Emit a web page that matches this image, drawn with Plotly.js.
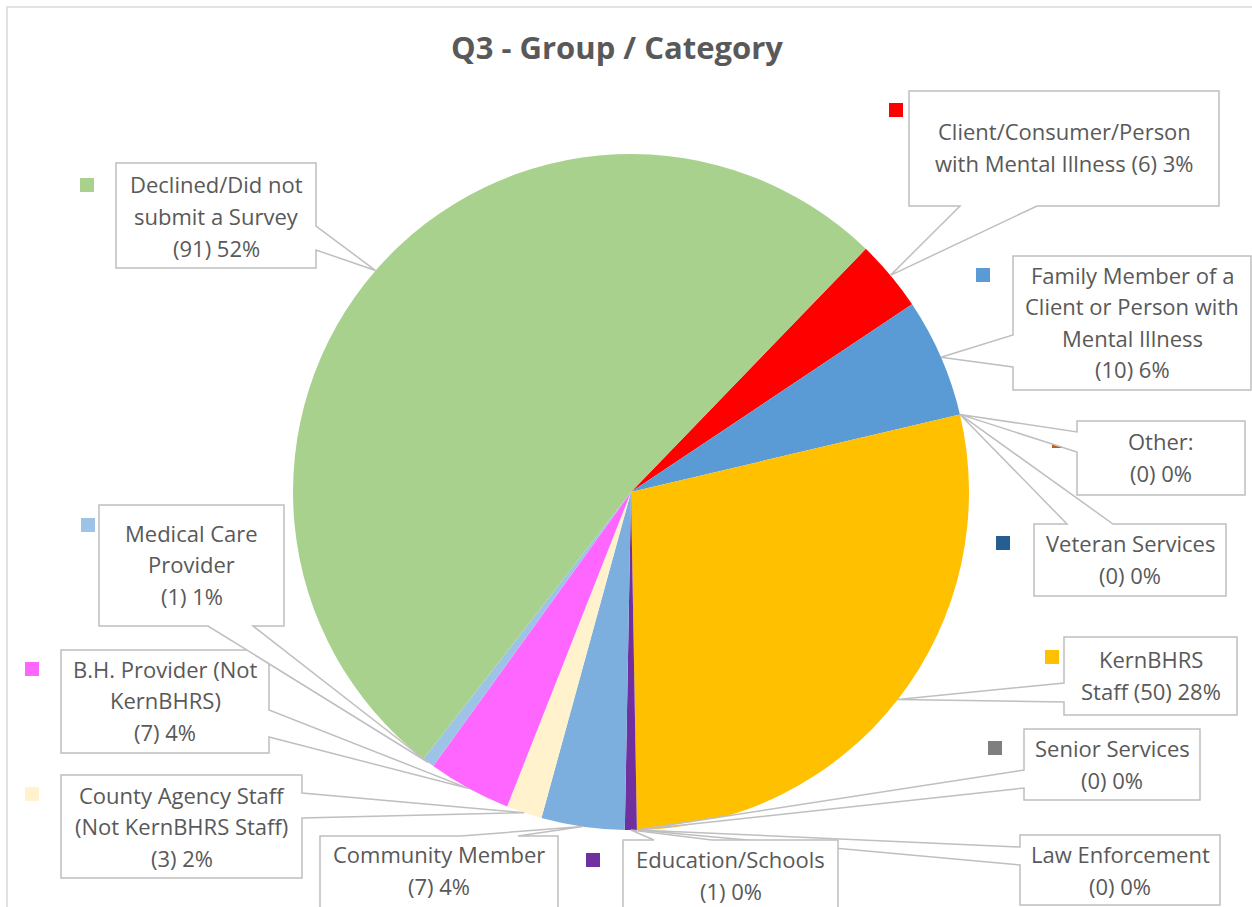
<!DOCTYPE html>
<html>
<head>
<meta charset="utf-8">
<script src="https://cdn.plot.ly/plotly-3.0.1.min.js"></script>
<style>
  html, body { margin: 0; padding: 0; background: #fff; }
  #myPlot { width: 1252px; height: 907px; }
</style>
</head>
<body>
<div id="myPlot"></div>
<script>
// Chart data (slice order as in the source workbook, clockwise)
const categories = [
  'Client/Consumer/Person with Mental Illness',
  'Family Member of a Client or Person with Mental Illness',
  'Other:',
  'Veteran Services',
  'KernBHRS Staff',
  'Senior Services',
  'Law Enforcement',
  'Education/Schools',
  'Community Member',
  'County Agency Staff (Not KernBHRS Staff)',
  'B.H. Provider (Not KernBHRS)',
  'Medical Care Provider',
  'Declined/Did not submit a Survey'
];
const values = [6, 10, 0, 0, 50, 0, 0, 1, 7, 3, 7, 1, 91];
const sliceColors = ['#FF0000', '#5B9BD5', '#C55A11', '#255E91', '#FFC000', '#7F7F7F',
  '#997300', '#7030A0', '#7CAFDD', '#FFF2CC', '#FF66FF', '#9DC3E6', '#A9D18E'];
// callout texts, one entry per line
const labelLines = [
  ['Client/Consumer/Person', 'with Mental Illness (6) 3%'],
  ['Family Member of a', 'Client or Person with', 'Mental Illness', '(10) 6%'],
  ['Other:', '(0) 0%'],
  ['Veteran Services', '(0) 0%'],
  ['KernBHRS', 'Staff (50) 28%'],
  ['Senior Services', '(0) 0%'],
  ['Law Enforcement', '(0) 0%'],
  ['Education/Schools', '(1) 0%'],
  ['Community Member', '(7) 4%'],
  ['County Agency Staff', '(Not KernBHRS Staff)', '(3) 2%'],
  ['B.H. Provider (Not', 'KernBHRS)', '(7) 4%'],
  ['Medical Care', 'Provider', '(1) 1%'],
  ['Declined/Did not', 'submit a Survey', '(91) 52%']
];

// Layout of the callouts (pixels)
const W = 1252, H = 907;
const CX = 631, CY = 492, R = 338, ROT = 44;
const boxes = [
  [909, 91, 1219, 206], [1013, 256, 1251, 390], [1077, 421, 1245, 495], [1034, 524, 1226, 596],
  [1064, 637, 1237, 715], [1024, 729, 1200, 800], [1020, 835, 1220, 905], [623, 840, 838, 930],
  [320, 836, 558, 930], [61, 775, 302, 878], [61, 650, 269, 753], [99, 505, 284, 626],
  [116, 163, 316, 268]
];
const pointerEdge = ['bottom', 'left', 'left', 'top', 'left', 'left', 'left', 'top', 'top', 'right', 'right', 'bottom', 'right'];
const pointerBase = [[960, 1037], [335, 367], [432, 452], [1067, 1113], [683, 702], [770, 788], [847, 865],
  [654, 712], [461, 518], [793, 818], [710, 737], [208, 253], [226, 250]];
const textCenterY = [147, 322, 457, 559, 675, 764, 870, 875, 870, 826, 700, 564, 216];
const keyPos = [[896, 110], [983, 275], [1059, 441], [1003, 543], [1052, 657], [995, 748], [991, 854],
  [593, 860], [291, 854], [32, 794], [32, 669], [88, 525], [87, 185]];

const px = x => x / W;
const py = y => 1 - y / H;
const textColor = '#595959';
const font = '"Segoe UI", "Open Sans", sans-serif';

// slice mid angles -> pointer tips on the pie edge
const total = values.reduce((a, b) => a + b, 0);
let cum = 0;
const tips = values.map(v => {
  const mid = (ROT + 360 * (cum + v / 2) / total) * Math.PI / 180;
  cum += v;
  return [CX + R * Math.sin(mid), CY - R * Math.cos(mid)];
});

function calloutPath(b, edge, base, tip) {
  const [x0, y0, x1, y1] = b;
  const P = (x, y) => px(x) + ',' + py(y);
  const t = P(tip[0], tip[1]);
  let pts;
  if (edge === 'top') pts = [P(x0, y0), P(base[0], y0), t, P(base[1], y0), P(x1, y0), P(x1, y1), P(x0, y1)];
  else if (edge === 'right') pts = [P(x0, y0), P(x1, y0), P(x1, base[0]), t, P(x1, base[1]), P(x1, y1), P(x0, y1)];
  else if (edge === 'bottom') pts = [P(x0, y0), P(x1, y0), P(x1, y1), P(base[1], y1), t, P(base[0], y1), P(x0, y1)];
  else pts = [P(x0, y0), P(x1, y0), P(x1, y1), P(x0, y1), P(x0, base[1]), t, P(x0, base[0])];
  return 'M' + pts.join('L') + 'Z';
}

const shapes = [];
// chart frame
shapes.push({type: 'rect', xref: 'paper', yref: 'paper', x0: px(7), x1: px(W + 5), y0: py(7), y1: py(H + 5),
  line: {color: '#D9D9D9', width: 1.5}, fillcolor: 'rgba(0,0,0,0)'});
// legend keys
keyPos.forEach((k, i) => {
  shapes.push({type: 'rect', xref: 'paper', yref: 'paper', x0: px(k[0] - 7), x1: px(k[0] + 7),
    y0: py(k[1] - 7), y1: py(k[1] + 7), line: {width: 0}, fillcolor: sliceColors[i]});
});
// callout boxes
boxes.forEach((b, i) => {
  shapes.push({type: 'path', xref: 'paper', yref: 'paper', path: calloutPath(b, pointerEdge[i], pointerBase[i], tips[i]),
    line: {color: '#BFBFBF', width: 1.5}, fillcolor: '#FFFFFF'});
});

const annotations = [];
labelLines.forEach((lines, i) => {
  const cx = (boxes[i][0] + boxes[i][2]) / 2;
  const step = 31.5;
  const first = textCenterY[i] - (lines.length - 1) * step / 2;
  lines.forEach((t, j) => {
    annotations.push({xref: 'paper', yref: 'paper', x: px(cx), y: py(first + j * step),
      xanchor: 'center', yanchor: 'middle', showarrow: false, text: t,
      font: {family: font, size: 22, color: textColor}});
  });
});

const trace = {
  type: 'pie',
  labels: categories,
  values: values,
  sort: false,
  direction: 'clockwise',
  rotation: ROT,
  textinfo: 'none',
  hoverinfo: 'label+value+percent',
  marker: {colors: sliceColors, line: {width: 0}},
  domain: {x: [px(CX - R), px(CX + R)], y: [py(CY + R), py(CY - R)]},
  showlegend: false
};

const layout = {
  width: W, height: H,
  margin: {l: 0, r: 0, t: 0, b: 0},
  paper_bgcolor: '#FFFFFF',
  title: {text: '<b>Q3 - Group / Category</b>', x: 617 / W, xanchor: 'center', y: 1 - 48 / H, yanchor: 'middle',
    font: {family: font, size: 31, color: textColor}},
  shapes: shapes,
  annotations: annotations
};

Plotly.newPlot('myPlot', [trace], layout, {displayModeBar: false});
</script>
</body>
</html>
